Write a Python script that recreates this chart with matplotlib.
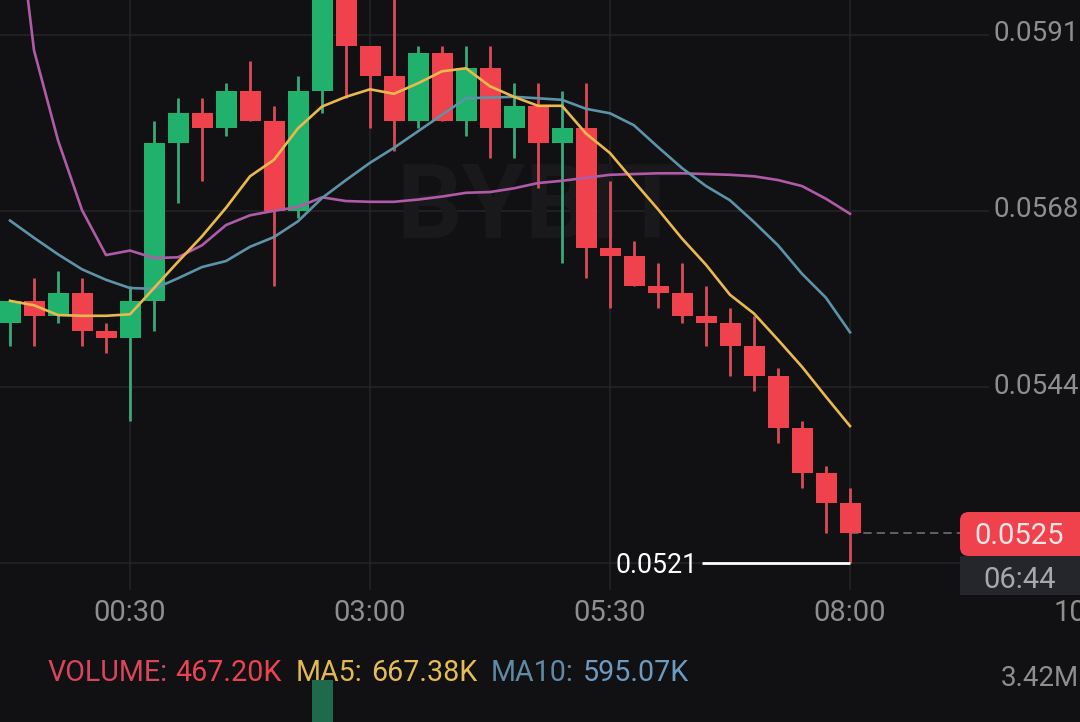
import matplotlib
matplotlib.use('Agg')
import matplotlib.pyplot as plt
from matplotlib.patches import FancyBboxPatch, Rectangle

# candles, one every 15 min, prices
opens = [.0553,.0556,.0554,.0557,.0552,.0551,.0556,.0577,.0581,.0579,.0584,.0580,.0568,.0584,.0598,.0590,.0586,.0580,
         .0589,.0580,.0587,.0579,.0582,.0577,.0579,.0563,.0562,.0558,.0557,.0554,.0553,.0550,.0546,.0539,.0533,.0529]
closes = [.0556,.0554,.0557,.0552,.0551,.0556,.0577,.0581,.0579,.0584,.0580,.0568,.0584,.0598,.0590,.0586,.0580,.0589,
          .0580,.0587,.0579,.0582,.0577,.0579,.0563,.0562,.0558,.0557,.0554,.0553,.0550,.0546,.0539,.0533,.0529,.0525]
highs = [.0556,.0559,.0560,.0559,.0553,.0558,.0580,.0583,.0583,.0585,.0588,.0582,.0586,.0600,.0600,.0590,.0600,.0590,
         .0590,.0590,.0590,.0585,.0585,.0584,.0585,.0572,.0564,.0561,.0561,.0558,.0555,.0554,.0547,.0540,.0534,.0531]
lows = [.0550,.0550,.0553,.0550,.0549,.0540,.0552,.0569,.0572,.0578,.0580,.0558,.0567,.0581,.0583,.0579,.0576,.0579,
        .0580,.0578,.0575,.0575,.0571,.0561,.0559,.0555,.0558,.0555,.0553,.0550,.0546,.0544,.0537,.0531,.0525,.0521]

ma5 = [.05560,.05554,.05541,.05540,.05540,.05542,.05577,.05612,.05646,.05684,.05726,.05748,.05790,.05819,.05832,.05842,
       .05836,.05850,.05866,.05870,.05846,.05832,.05820,.05820,.05783,.05757,.05719,.05682,.05643,.05608,.05568,.05543,
       .05508,.05472,.05432,.05393]
ma10 = [.05667,.05644,.05622,.05602,.05588,.05577,.05576,.05590,.05605,.05613,.05632,.05645,.05666,.05697,.05721,.05744,
        .05764,.05786,.05808,.05830,.05831,.05832,.05830,.05828,.05816,.05810,.05794,.05765,.05737,.05713,.05694,.05665,
        .05634,.05596,.05564,.05518]
ma30 = [.06161,.05894,.05774,.05681,.05621,.05627,.05617,.05618,.05634,.05661,.05674,.05680,.05685,.05698,.05693,.05692,
        .05692,.05695,.05699,.05704,.05705,.05710,.05717,.05720,.05724,.05728,.05729,.05730,.05730,.05729,.05728,.05726,
        .05721,.05713,.05696,.05676]

price_ticks = [.05915, .0568, .05445, .0521]
price_labels = ['0.0591', '0.0568', '0.0544']  # the 0.0521 one sits behind the price tag
time_idx = [5, 15, 25, 35, 45]
time_labels = ['00:30', '03:00', '05:30', '08:00', '10:30']
last_price = .0525
low_price = .0521

vol_idx = [13]
vol_vals = [3.42e6]

BG = '#111113'
GRID = '#242426'
RED = '#f0424c'
GREEN = '#20b26c'
RED_WICK = '#d64c55'
GREEN_WICK = '#3aa877'
TXT = '#8e8e8e'
FONT = 'Roboto'

plt.rcParams['font.family'] = FONT

fig = plt.figure(figsize=(10.8, 7.22), dpi=100, facecolor=BG)
ax = fig.add_axes([0, 0, 1, 1])
ax.set_facecolor(BG)
# 24 px per candle, 7.5 px per 0.0001
ax.set_xlim(-10 / 24., 1070 / 24.)
ax.set_ylim(.0521 - 158.7 / 75000., .0521 + 563.3 / 75000.)
ax.axis('off')

# grid
ax.hlines(price_ticks, ax.get_xlim()[0], 40.8, color=GRID, lw=1.2, zorder=1)
ax.vlines(time_idx, .0521 - 26.7 / 75000., ax.get_ylim()[1], color=GRID, lw=1.2, zorder=1)

# watermark
ax.text(22.1, .05682, 'BYBIT', color='#19191b', fontsize=74, fontweight='bold', ha='center', va='center', zorder=1.5)

# candles
for i in range(len(opens)):
    up = closes[i] >= opens[i]
    ax.vlines(i, lows[i], highs[i], color=GREEN_WICK if up else RED_WICK, lw=2.0, zorder=2)
    ax.bar(i, abs(closes[i] - opens[i]), bottom=min(opens[i], closes[i]), width=21 / 24.,
           color=GREEN if up else RED, zorder=3)

# moving averages
x = list(range(len(ma5)))
ax.plot(x, ma30, color='#b05aa8', lw=1.9, zorder=4)
ax.plot(x, ma10, color='#5d93a8', lw=1.9, zorder=4.2)
ax.plot(x, ma5, color='#eab84c', lw=1.9, zorder=4.4)

# price axis labels
for v, lbl in zip(price_ticks, price_labels):
    ax.annotate(lbl, xy=(1, v), xycoords=('axes fraction', 'data'), xytext=(-1, 1), textcoords='offset pixels',
                color=TXT, fontsize=20, ha='right', va='center', zorder=6)

# time axis labels
for i, lbl in zip(time_idx, time_labels):
    ax.text(i, .0521 - 49.5 / 75000., lbl, color=TXT, fontsize=21, ha='center', va='center', zorder=6)

# lowest price marker
ax.hlines(low_price, 28.83, 35, color='white', lw=2.0, zorder=5)
ax.text(28.65, low_price - 2 / 75000., '0.0521', color='white', fontsize=19.3, ha='right', va='center', zorder=6)

# last price line and tag
ax.hlines(last_price, 35, 39.6, color='#6e6e6e', lw=1.2, linestyles=(0, (5, 3)), zorder=2)
trans = ax.transAxes
box = FancyBboxPatch((960 / 1080., 1 - 556 / 722.), 140 / 1080., 44 / 722., transform=trans,
                     boxstyle='round,pad=0,rounding_size=0.008', mutation_aspect=1.5, fc=RED, ec='none', zorder=5)
ax.add_patch(box)
ax.add_patch(Rectangle((960 / 1080., 1 - 595 / 722.), 120 / 1080., 39 / 722., transform=trans, fc='#25252c', ec='none', zorder=5))
ax.text(1019 / 1080., 1 - 536 / 722., '0.0525', transform=trans, color='#f8e6e6', fontsize=21, ha='center', va='center', zorder=6)
ax.text(1020 / 1080., 1 - 580 / 722., '06:44', transform=trans, color='#a8a8ac', fontsize=21, ha='center', va='center', zorder=6)

# volume legend line
legend_y = 1 - 673 / 722.
legend_bits = [(48, 'VOLUME:', '#d9455c'), (175, '467.20K', '#ea4452'),
               (296, 'MA5:', '#e2b84f'), (371, '667.38K', '#e6bc55'),
               (491, 'MA10:', '#5f8aa6'), (583, '595.07K', '#6c9ac0')]
for px, s, c in legend_bits:
    ax.text(px / 1080., legend_y, s, transform=trans, color=c, fontsize=20.6, ha='left', va='center', zorder=6)
ax.text(1079 / 1080., 1 - 679 / 722., '3.42M', transform=trans, color=TXT, fontsize=20, ha='right', va='center', zorder=6)

# volume pane, only the tall bar reaches into view
ax_vol = fig.add_axes([0, 0, 1, 42 / 722.])
ax_vol.patch.set_alpha(0)
ax_vol.set_xlim(ax.get_xlim())
ax_vol.set_ylim(2.0e6, 3.42e6)
ax_vol.axis('off')
ax_vol.bar(vol_idx, vol_vals, width=21 / 24., color='#1d6b4c')

fig.savefig('out.png', dpi=100, facecolor=BG)
